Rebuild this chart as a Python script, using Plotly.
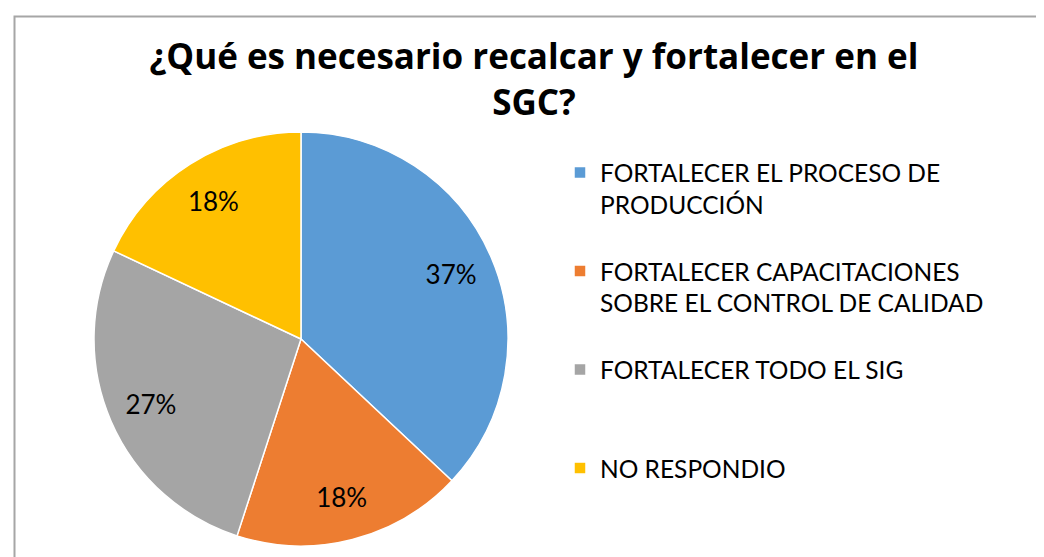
import plotly.graph_objects as go

labels = [
    "FORTALECER EL PROCESO DE<br>PRODUCCIÓN<br> ",
    "FORTALECER CAPACITACIONES<br>SOBRE EL CONTROL DE CALIDAD<br> ",
    "FORTALECER TODO EL SIG<br> <br> ",
    "NO RESPONDIO<br> <br> ",
]
values = [37, 18, 27, 18]
colors = ["#5B9BD5", "#ED7D31", "#A5A5A5", "#FFC000"]
title_text = "¿Qué es necesario recalcar y fortalecer en el<br>SGC?"

W, H = 1044, 557
dom = dict(x=[86 / W, 500 / W], y=[(H - 538) / H, (H - 124) / H])

fig = go.Figure()
fig.add_trace(go.Pie(
    labels=labels,
    values=values,
    sort=False,
    direction="clockwise",
    rotation=0,
    marker=dict(colors=colors, line=dict(color="white", width=1.5)),
    textinfo="none",
    domain=dom,
    hoverinfo="label+percent",
))
# transparent ring carrying the percentage labels further out, as in the reference
fig.add_trace(go.Pie(
    labels=labels,
    values=values,
    sort=False,
    direction="clockwise",
    rotation=0,
    hole=0.58,
    showlegend=False,
    marker=dict(colors=["rgba(0,0,0,0)"] * len(values), line=dict(width=0)),
    texttemplate="%{value}%",
    textposition="inside",
    insidetextorientation="horizontal",
    textfont=dict(family="Lato", size=26, color="black"),
    domain=dom,
    hoverinfo="skip",
))

fig.update_layout(
    width=W, height=H,
    margin=dict(l=0, r=0, t=0, b=0),
    paper_bgcolor="white",
    font=dict(family="Lato", color="black"),
    title=dict(text="<b>" + title_text + "</b>", x=526 / W, xanchor="center",
               y=1 - 61 / H, yanchor="top",
               font=dict(family="Open Sans", size=35, color="black")),
    legend=dict(x=552 / W, xanchor="left", y=1 - 142 / H, yanchor="top",
                valign="top", font=dict(family="Lato", size=24.5, color="black"),
                itemwidth=30, bgcolor="rgba(0,0,0,0)"),
    showlegend=True,
    shapes=[dict(type="rect", xref="paper", yref="paper",
                 x0=6.5 / W, x1=1.05, y0=-0.05, y1=1 - 8.5 / H,
                 line=dict(color="#A6A6A6", width=2), fillcolor="rgba(0,0,0,0)")],
)

fig.write_html("out.html")
